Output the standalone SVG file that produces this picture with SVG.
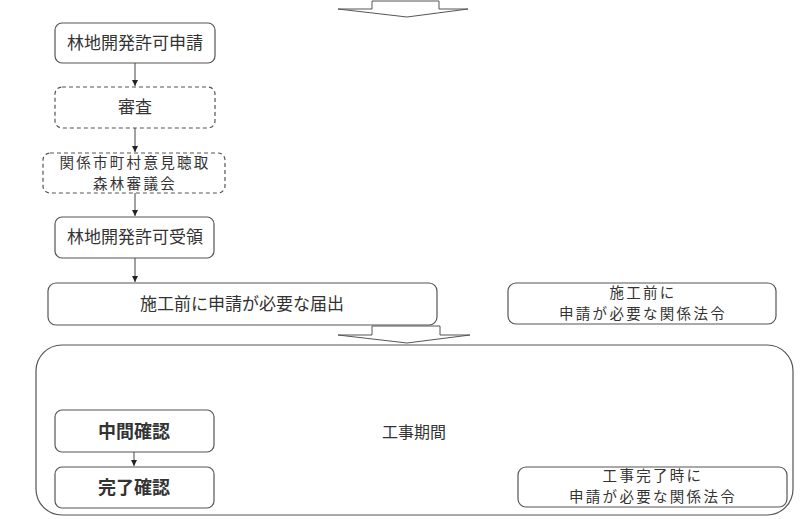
<svg xmlns="http://www.w3.org/2000/svg" width="800" height="519" viewBox="0 0 800 519">
<defs>
<style>
.box{fill:#fff;stroke:#555;stroke-width:1.2}
.dash{fill:#fff;stroke:#555;stroke-width:1.2;stroke-dasharray:4,3}
.big{fill:#fff;stroke:#555;stroke-width:1.2}
.blk{fill:#fff;stroke:#555;stroke-width:1}
.t{font-family:"Noto Sans CJK JP","Noto Sans",sans-serif;font-size:17px;fill:#333;text-anchor:middle}
.s{font-size:14.5px;letter-spacing:2.3px}
.b{font-weight:bold;font-size:18px}
.e{stroke:#444;stroke-width:1;fill:none}
</style>
<marker id="ah" markerWidth="8" markerHeight="8" refX="6" refY="3" orient="auto" markerUnits="userSpaceOnUse">
<path d="M0,0 L6,3 L0,6 z" fill="#222"/>
</marker>
</defs>
<rect width="800" height="519" fill="#fff"/>
<g id="arrow-top"><polygon class="blk" points="372,1 439,1 439,9 468,9 407,17 338,9 372,9"/></g>
<g id="period">
<rect class="big" x="36" y="345" width="757" height="170" rx="26" ry="26"/>
<text class="t" x="414" y="438" style="font-size:16px">工事期間</text>
</g>
<g id="arrow-mid"><polygon class="blk" points="372,326 440,326 440,335 470,335 407,343 338,335 372,335"/></g>
<g id="n1"><rect class="box" x="55" y="23" width="160" height="40" rx="7"/><text class="t" x="135" y="49">林地開発許可申請</text></g>
<g id="n2"><rect class="dash" x="55" y="87" width="160" height="41" rx="7"/><text class="t" x="135" y="113">審査</text></g>
<g id="n3"><rect class="dash" x="43" y="153" width="182" height="40" rx="7"/><text class="t s" x="135" y="168">関係市町村意見聴取</text><text class="t s" x="135" y="189">森林審議会</text></g>
<g id="n4"><rect class="box" x="55" y="217" width="159" height="41" rx="7"/><text class="t" x="135" y="243">林地開発許可受領</text></g>
<g id="n5"><rect class="box" x="48" y="283" width="389" height="42" rx="8"/><text class="t" x="242" y="310">施工前に申請が必要な届出</text></g>
<g id="n6"><rect class="box" x="508" y="283" width="268" height="41" rx="8"/><text class="t s" x="643" y="298">施工前に</text><text class="t s" x="643" y="319">申請が必要な関係法令</text></g>
<g id="n7"><rect class="box" x="55" y="410" width="159" height="42" rx="7"/><text class="t b" x="134" y="438">中間確認</text></g>
<g id="n8"><rect class="box" x="55" y="467" width="159" height="41" rx="7"/><text class="t b" x="134" y="494">完了確認</text></g>
<g id="n9"><rect class="box" x="518" y="467" width="269" height="40" rx="8"/><text class="t s" x="653" y="481">工事完了時に</text><text class="t s" x="653" y="502">申請が必要な関係法令</text></g>
<g id="connectors">
<line class="e" x1="135" y1="63" x2="135" y2="86" marker-end="url(#ah)"/>
<line class="e" x1="135" y1="128" x2="135" y2="152" marker-end="url(#ah)"/>
<line class="e" x1="135" y1="193" x2="135" y2="216" marker-end="url(#ah)"/>
<line class="e" x1="135" y1="258" x2="135" y2="282" marker-end="url(#ah)"/>
<line class="e" x1="134" y1="452" x2="134" y2="466" marker-end="url(#ah)"/>
</g>
</svg>
